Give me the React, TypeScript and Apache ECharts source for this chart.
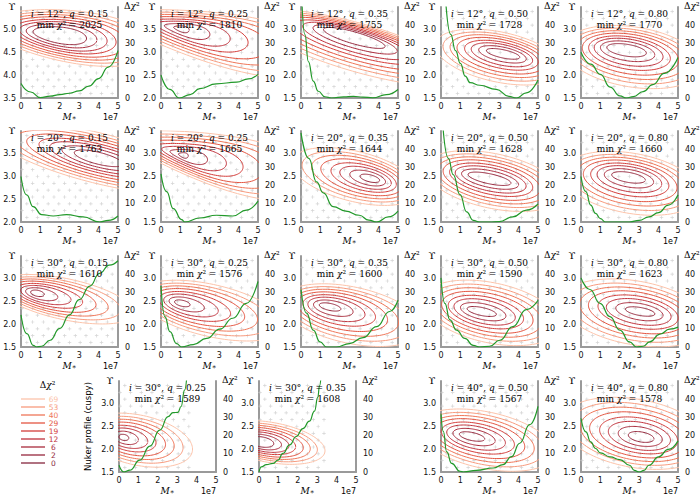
import React, { useEffect, useRef } from "react";
import * as echarts from "echarts";

// ---------- panel metadata ----------
const inclinations = [12, 12, 12, 12, 12, 20, 20, 20, 20, 20, 30, 30, 30, 30, 30, 30, 30, 40, 40];
const flattenings = ["0.15", "0.25", "0.35", "0.50", "0.80", "0.15", "0.25", "0.35", "0.50", "0.80", "0.15", "0.25", "0.35", "0.50", "0.80", "0.25", "0.35", "0.50", "0.80"];
const minChi2 = [2025, 1810, 1755, 1728, 1770, 1763, 1665, 1644, 1628, 1660, 1610, 1576, 1600, 1590, 1623, 1589, 1608, 1567, 1578];
const upsilonMin = [3.5, 2.0, 1.5, 1.5, 1.5, 2.0, 1.5, 1.5, 1.5, 1.5, 1.5, 1.5, 1.5, 1.5, 1.5, 1.5, 1.5, 1.5, 1.5];
const upsilonSpan = 2;
const massMax = 5;
const dchiMax = 50;

// contour levels (Δχ²) and their colours
const chiLevels = [0, 2, 6, 12, 19, 29, 40, 53, 69];
const levelColors = ["#86263d", "#96283d", "#a92b3c", "#bf313b", "#d33d3a", "#e35541", "#ef7658", "#f79b7e", "#fcc3aa"];

// Δχ² contour shapes: [centre M, centre Υ, half-length (M), half-width (Υ)]
const contourInner = [
  [2.0, 4.88, 1.39, 0.18], [1.05, 3.52, 0.41, 0.066], [2.75, 2.82, 1.65, 0.13], [3.2, 2.47, 0.88, 0.09], [2.35, 2.55, 1.03, 0.13],
  [4.0, 3.4, 1.29, 0.13], [1.15, 2.97, 0.26, 0.055], [3.55, 2.46, 0.52, 0.077], [2.5, 2.45, 1.13, 0.11], [2.45, 2.48, 0.88, 0.11],
  [0.85, 2.68, 0.36, 0.066], [1.1, 2.46, 0.41, 0.066], [1.5, 2.38, 0.57, 0.077], [2.1, 2.28, 0.77, 0.088], [3.05, 2.28, 0.77, 0.088],
  [0.25, 2.26, 0.26, 0.066], [0.15, 2.16, 0.62, 0.11], [1.6, 2.28, 0.67, 0.088], [3.1, 2.27, 0.67, 0.11],
];
const contourOuter = [
  [2.6, 4.85, 4.38, 0.57], [3.0, 3.3, 5.67, 0.57], [3.0, 2.6, 5.67, 0.53], [3.0, 2.4, 3.35, 0.55], [2.7, 2.4, 3.6, 0.66],
  [4.0, 3.4, 5.67, 0.55], [3.0, 2.85, 5.15, 0.57], [2.8, 2.5, 3.35, 0.55], [2.7, 2.4, 3.6, 0.6], [2.6, 2.35, 3.6, 0.66],
  [2.3, 2.55, 3.6, 0.45], [2.6, 2.3, 3.87, 0.57], [2.6, 2.2, 3.7, 0.62], [2.6, 2.25, 3.6, 0.66], [2.8, 2.25, 3.87, 0.7],
  [1.0, 2.2, 2.84, 0.55], [0.6, 2.15, 2.84, 0.44], [2.3, 2.2, 3.6, 0.62], [2.8, 2.35, 3.87, 0.75],
];
const contourTilt = [-8, -12, -16, -12, -9, -14, -14, -14, -12, -10, -12, -13, -12, -12, -10, -12, -10, -12, -10];
const contourSkew = [0.15, 0.4, 0, 0, 0, 0, 0.4, 0, 0, 0, 0, 0, 0, 0, 0, 0, 0, 0, 0];

// model grid (gray crosses)
const gridMass = [0.3, 0.85, 1.4, 1.95, 2.5, 3.05, 3.6, 4.15, 4.7];
const gridUpsilonOffsets = [0.1, 0.25, 0.4, 0.55, 0.7, 0.85, 1.0, 1.15, 1.3, 1.45, 1.6, 1.75, 1.9];
const gridMassLimit = [5, 5, 5, 5, 5, 5, 5, 5, 5, 5, 5, 5, 5, 5, 5, 3.8, 3.5, 5, 5];

// green Δχ²(M*) curves, [M* (1e7), Δχ²]
const dchi2_i12_q015 = [[0, 8], [0.5, 3.3], [1, 0.2], [1.5, 1], [2, 1.9], [2.5, 2.6], [3, 3.9], [3.5, 6.5], [4, 10.7], [4.5, 17], [5, 26]];
const dchi2_i12_q025 = [[0, 12.6], [0.45, 4.7], [0.95, 0], [1.5, 1.9], [2, 5.2], [2.85, 7.8], [3.9, 8.7], [4.5, 10.5], [5, 13]];
const dchi2_i12_q035 = [[0.05, 52], [0.2, 35], [0.38, 20], [0.63, 9.3], [0.89, 3.7], [1.23, 0.7], [1.58, 0], [2.2, 0.6], [2.7, 0.9], [3.2, 0.5], [3.7, 0.1], [4.4, 1.9], [5, 4.7]];
const dchi2_i12_q050 = [[0.25, 52], [0.5, 35], [0.75, 26], [1, 19], [1.25, 12], [1.5, 8.4], [2, 7], [2.85, 4.7], [3.5, 0.9], [3.9, 0], [4.4, 2.8], [5, 9.9]];
const dchi2_i12_q080 = [[0, 25.1], [0.5, 18.6], [1, 13], [1.5, 6], [2, 1.2], [2.35, 0], [2.7, 0.8], [3.2, 3.5], [3.7, 7.4], [4.3, 13.5], [5, 22.3]];
const dchi2_i20_q015 = [[0, 25], [0.29, 14.9], [0.63, 8.4], [1.06, 4.1], [1.66, 3.3], [2.35, 4.1], [3.2, 2.8], [4.06, 0], [4.5, 0.9], [5, 3.3]];
const dchi2_i20_q025 = [[0, 26.4], [0.29, 16.7], [0.63, 7.4], [1.06, 1.3], [1.23, 0], [2, 2.2], [2.86, 3.7], [3.7, 3.3], [4.4, 6.5], [5, 11.5]];
const dchi2_i20_q035 = [[0, 49], [0.4, 35], [0.8, 22], [1.15, 16], [1.65, 8.5], [2.3, 6], [3, 3.7], [3.5, 1], [3.9, 0], [4.5, 2.8], [5, 6]];
const dchi2_i20_q050 = [[0.1, 52], [0.38, 35], [0.63, 26], [0.98, 15], [1.32, 5.6], [1.66, 0.9], [2, 0], [2.5, 0], [3, 0.2], [3.7, 2.8], [4.4, 6.5], [5, 9.9]];
const dchi2_i20_q080 = [[0, 25], [0.25, 16.7], [0.5, 9.3], [0.75, 4.7], [1, 1.9], [1.25, 0], [2, 0], [2.5, 0], [3, 0.9], [3.5, 2.8], [4, 5.2], [4.5, 9.3], [5, 14.9]];
const dchi2_i30_q015 = [[0, 17.7], [0.3, 7.4], [0.63, 0.9], [0.8, 0], [1.06, 0.4], [1.5, 3.7], [2, 10.2], [2.5, 17.7], [3, 26], [3.55, 33.5], [4.05, 40.5], [4.55, 45], [5, 47.4]];
const dchi2_i30_q025 = [[0, 33.5], [0.2, 16.7], [0.46, 8.4], [0.8, 1.9], [1.06, 0], [1.66, 1.3], [2.35, 4.7], [3.03, 9.8], [3.7, 15.8], [4.4, 24], [5, 36]];
const dchi2_i30_q035 = [[0, 31.6], [0.29, 18.6], [0.63, 9.3], [0.98, 2.8], [1.32, 0], [1.83, 0], [2.5, 1.9], [3.2, 5.2], [3.9, 11.2], [4.57, 19.5], [5, 25.7]];
const dchi2_i30_q050 = [[0, 38], [0.2, 24], [0.46, 14.9], [0.8, 9.3], [1.23, 4.7], [1.66, 0.9], [2, 0], [2.5, 0.4], [3.03, 3.7], [3.7, 11.2], [4.4, 20.5], [5, 25.7]];
const dchi2_i30_q080 = [[0, 38], [0.46, 31.6], [0.98, 24], [1.49, 16.7], [2, 9.3], [2.5, 2.8], [2.86, 0], [3.2, 0.4], [3.54, 2.8], [4.06, 7], [4.57, 9.8], [5, 10.9]];
const dchi2_i30_q025_cuspy = [[0, 3.7], [0.26, 0], [0.56, 1], [1.07, 6.5], [1.59, 14.2], [2.1, 23], [2.53, 30.4], [2.78, 32.6], [3.04, 32.8], [3.2, 36], [3.38, 45], [3.5, 53]];
const dchi2_i30_q035_cuspy = [[0, 0], [0.12, 2.8], [0.38, 4.1], [0.72, 4.7], [0.98, 6.5], [1.23, 10.2], [1.58, 14.9], [1.92, 19.5], [2.26, 23.8], [2.6, 27.9], [2.86, 33.5], [3.03, 41], [3.12, 47.4], [3.2, 53]];
const dchi2_i40_q050 = [[0, 32], [0.12, 22.3], [0.29, 11.2], [0.55, 4.7], [0.98, 0.4], [1.15, 0], [1.83, 0.9], [2.7, 2.2], [3.2, 4.1], [3.63, 8.4], [4.06, 15.8], [4.57, 26], [5, 36]];
const dchi2_i40_q080 = [[0, 29.5], [0.25, 22.1], [0.5, 16.6], [0.75, 12.9], [1, 10.5], [1.5, 8.3], [2, 6.8], [2.5, 3.7], [2.75, 0.9], [3, 0], [3.25, 0.9], [3.5, 3.7], [4, 8.3], [4.5, 12.4], [5, 17.1]];

const greenCurves = [
  dchi2_i12_q015, dchi2_i12_q025, dchi2_i12_q035, dchi2_i12_q050, dchi2_i12_q080,
  dchi2_i20_q015, dchi2_i20_q025, dchi2_i20_q035, dchi2_i20_q050, dchi2_i20_q080,
  dchi2_i30_q015, dchi2_i30_q025, dchi2_i30_q035, dchi2_i30_q050, dchi2_i30_q080,
  dchi2_i30_q025_cuspy, dchi2_i30_q035_cuspy, dchi2_i40_q050, dchi2_i40_q080,
];

// ---------- layout ----------
const PW = 97;
const PH = 91;
const rowBottoms = [98, 222, 347, 472];
const colLefts = [21, 161, 301, 441, 581];
const row4Lefts = [119, 259, 441, 581];
const SERIF = '"DejaVu Serif"';
const SANS = '"DejaVu Sans"';

function panelBox(i: number) {
  const row = i < 15 ? Math.floor(i / 5) : 3;
  const left = i < 15 ? colLefts[i % 5] : row4Lefts[i - 15];
  const top = rowBottoms[row] - PH;
  return { left, top };
}

const SX = PW / massMax;
const SY = PH / upsilonSpan;

function contourRing(i: number, level: number) {
  const f = (Math.sqrt(level) - Math.sqrt(2)) / (Math.sqrt(69) - Math.sqrt(2));
  const inn = contourInner[i];
  const out = contourOuter[i];
  const cx = inn[0] + (out[0] - inn[0]) * f;
  const cy = inn[1] + (out[1] - inn[1]) * f;
  const a = inn[2] + (out[2] - inn[2]) * f;
  const b = inn[3] + (out[3] - inn[3]) * f;
  const th = (contourTilt[i] * Math.PI) / 180;
  const s = contourSkew[i];
  const pts: number[][] = [];
  const n = 120;
  for (let j = 0; j <= n; j++) {
    const t = (j / n) * 2 * Math.PI;
    const u = a * SX * Math.cos(t);
    const v = b * SY * Math.sin(t) * (1 + s * Math.cos(t));
    const px = u * Math.cos(th) - v * Math.sin(th);
    const py = u * Math.sin(th) + v * Math.cos(th);
    pts.push([cx + px / SX, cy + py / SY]);
  }
  return pts;
}

function gridDots(i: number) {
  const out: number[][] = [];
  gridUpsilonOffsets.forEach((du, r) => {
    gridMass.forEach((m) => {
      const x = r % 2 ? m - 0.25 : m;
      if (x <= gridMassLimit[i]) out.push([x, upsilonMin[i] + du]);
    });
  });
  return out;
}

function txt(x: number, y: number, text: string, size: number, family: string, extra: any = {}) {
  return {
    type: "text",
    x,
    y,
    z: 100,
    silent: true,
    rotation: extra.rotation || 0,
    style: {
      text,
      fill: extra.fill || "#000",
      fontSize: size,
      fontFamily: family,
      lineHeight: extra.lineHeight || undefined,
      align: extra.align || "center",
      textAlign: extra.align || "center",
      verticalAlign: "middle",
      textVerticalAlign: "middle",
      rich: {
        it: { fontStyle: "italic", fontFamily: SERIF, fontSize: size, fill: extra.fill || "#000" },
        sub: { fontFamily: SERIF, fontSize: size - 2, fill: "#000", verticalAlign: "bottom" },
      },
    },
  };
}

function buildOption() {
  const grid: any[] = [];
  const xAxis: any[] = [];
  const yAxis: any[] = [];
  const series: any[] = [];
  const graphic: any[] = [];

  minChi2.forEach((mc, i) => {
    const { left, top } = panelBox(i);
    grid.push({ left, top, width: PW, height: PH });
    const axisLine = { show: true, onZero: false, lineStyle: { color: "#9a9a9a", width: 2 } };
    xAxis.push({
      gridIndex: i,
      type: "value",
      min: 0,
      max: massMax,
      interval: 1,
      axisLine,
      axisTick: { show: false },
      splitLine: { show: false },
      axisLabel: { fontSize: 8, color: "#111", margin: 4, fontFamily: SANS },
    });
    yAxis.push({
      gridIndex: i,
      type: "value",
      position: "left",
      min: upsilonMin[i],
      max: upsilonMin[i] + upsilonSpan,
      interval: 0.5,
      axisLine,
      axisTick: { show: false },
      splitLine: { show: false },
      axisLabel: {
        fontSize: 8,
        color: "#111",
        margin: 5,
        fontFamily: SANS,
        showMaxLabel: false,
        formatter: (v: number) => v.toFixed(1),
      },
    });
    yAxis.push({
      gridIndex: i,
      type: "value",
      position: "right",
      min: 0,
      max: dchiMax,
      interval: 10,
      axisLine,
      axisTick: { show: false },
      splitLine: { show: false },
      axisLabel: { fontSize: 8, color: "#111", margin: 7, fontFamily: SANS, showMaxLabel: false },
    });

    series.push({
      type: "scatter",
      xAxisIndex: i,
      yAxisIndex: 2 * i,
      data: gridDots(i),
      symbol: "path://M2,0H3V2H5V3H3V5H2V3H0V2H2Z",
      symbolSize: 3.5,
      itemStyle: { color: "#c9c9c9" },
      silent: true,
      z: 1,
      clip: true,
    });
    for (let k = 1; k < chiLevels.length; k++) {
      series.push({
        type: "line",
        xAxisIndex: i,
        yAxisIndex: 2 * i,
        data: contourRing(i, chiLevels[k]),
        showSymbol: false,
        symbol: "none",
        lineStyle: { color: levelColors[k], width: 1 },
        silent: true,
        clip: true,
        z: 2,
      });
    }
    series.push({
      type: "line",
      xAxisIndex: i,
      yAxisIndex: 2 * i + 1,
      data: greenCurves[i],
      showSymbol: false,
      symbol: "none",
      smooth: 0.5,
      smoothMonotone: "x",
      lineStyle: { color: "#22992a", width: 1.2 },
      silent: true,
      clip: true,
      z: 3,
    });

    const cx = left + PW / 2;
    graphic.push(txt(cx, top + 6.5, `{it|i} = ${inclinations[i]}°, {it|q} = ${flattenings[i]}`, 9, SERIF));
    graphic.push(txt(cx, top + 17.5, `min {it|χ}² = ${mc}`, 9, SERIF));
    graphic.push(txt(left - 9, top - 1, "ϒ", 10, SERIF));
    graphic.push(txt(left + PW + 6, top - 1, "Δ{it|χ}²", 9, SERIF, { align: "left" }));
    graphic.push(txt(cx, top + PH + 19, "{it|M}{sub|∗}", 9, SERIF));
    graphic.push(txt(left + PW, top + PH + 19, "1e7", 8, SANS, { align: "right" }));
  });

  // y label for the bottom-row first panel
  const p15 = panelBox(15);
  graphic.push(txt(p15.left - 31, p15.top + PH / 2, "Nuker profile (cuspy)", 8.5, SANS, { rotation: Math.PI / 2 }));

  // legend of Δχ² levels
  graphic.push(txt(47.5, 385, "Δ{it|χ}²", 9, SERIF));
  const legendOrder = chiLevels.slice().reverse();
  legendOrder.forEach((lv, j) => {
    const y = 399 + j * 8;
    const color = levelColors[chiLevels.indexOf(lv)];
    graphic.push({
      type: "line",
      z: 100,
      silent: true,
      shape: { x1: 21, y1: y, x2: 45, y2: y },
      style: { stroke: color, lineWidth: 1.3 },
    });
    graphic.push(txt(53.5, y, String(lv), 7.5, SANS, { fill: color, lineHeight: 7.5 }));
  });

  return {
    animation: false,
    textStyle: { fontFamily: SANS },
    grid,
    xAxis,
    yAxis,
    series,
    graphic,
  };
}

export default function App() {
  const ref = useRef<HTMLDivElement>(null);
  useEffect(() => {
    if (!ref.current) return;
    const chart = echarts.init(ref.current, null, { renderer: "svg" });
    chart.setOption(buildOption() as any);
    return () => chart.dispose();
  }, []);
  return (
    <div
      ref={ref}
      style={{ position: "absolute", left: 0, top: 0, width: 700, height: 500, background: "#fff" }}
    />
  );
}
